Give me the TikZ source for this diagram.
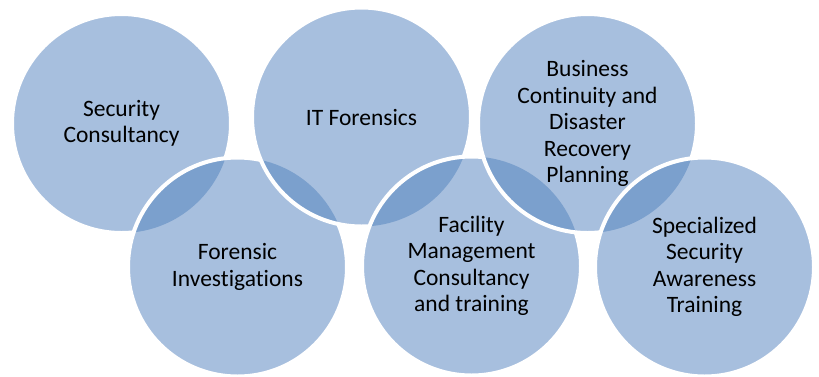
\documentclass[tikz,border=0pt]{standalone}
\usepackage{fontspec}
\setmainfont{Carlito}[Ligatures=NoCommon]
\definecolor{ringblue}{HTML}{A7BFDE}
\definecolor{lensblue}{HTML}{7BA0CD}

\begin{document}
\begin{tikzpicture}[x=1pt,y=-1pt,
ringfill/.style={fill=ringblue},
lensfill/.style={fill=lensblue},
ringline/.style={draw=white,line width=4pt},
ringtext/.style={align=center,inner sep=0pt,font=\fontsize{23.5}{26.5}\selectfont}]

\useasboundingbox (0,0) rectangle (819,376);

\coordinate (C1) at (121.5,123.5);
\coordinate (C2) at (237.5,267);
\coordinate (C3) at (361.5,117);
\coordinate (C4) at (471.5,266);
\coordinate (C5) at (587.5,123.5);
\coordinate (C6) at (704.5,267);

% first ring
\fill[ringfill] (C1) circle (109.5pt);
\draw[ringline] (C1) circle (109.5pt);
\node[ringtext] (T1) at (C1) {Security\\Consultancy};

% second ring, lens with the first
\fill[ringfill] (C2) circle (109.5pt);
\begin{scope}
\clip (C1) circle (109.5pt);
\fill[lensfill] (C2) circle (109.5pt);
\end{scope}
\draw[ringline] (C2) circle (109.5pt);
\node[ringtext] (T2) at (C2) {Forensic\\Investigations};

% third ring
\fill[ringfill] (C3) circle (109.5pt);
\begin{scope}
\clip (C2) circle (109.5pt);
\fill[lensfill] (C3) circle (109.5pt);
\end{scope}
\draw[ringline] (C3) circle (109.5pt);
\node[ringtext] (T3) at (C3) {IT Forensics};

% fourth ring
\fill[ringfill] (C4) circle (109.5pt);
\begin{scope}
\clip (C3) circle (109.5pt);
\fill[lensfill] (C4) circle (109.5pt);
\end{scope}
\draw[ringline] (C4) circle (109.5pt);
\node[ringtext] (T4) at (C4) {Facility\\Management\\Consultancy\\and training};

% fifth ring
\fill[ringfill] (C5) circle (109.5pt);
\begin{scope}
\clip (C4) circle (109.5pt);
\fill[lensfill] (C5) circle (109.5pt);
\end{scope}
\draw[ringline] (C5) circle (109.5pt);
\node[ringtext] (T5) at (C5) {Business\\Continuity and\\Disaster\\Recovery\\Planning};

% sixth ring
\fill[ringfill] (C6) circle (109.5pt);
\begin{scope}
\clip (C5) circle (109.5pt);
\fill[lensfill] (C6) circle (109.5pt);
\end{scope}
\draw[ringline] (C6) circle (109.5pt);
\node[ringtext] (T6) at (C6) {Specialized\\Security\\Awareness\\Training};

\end{tikzpicture}
\end{document}
